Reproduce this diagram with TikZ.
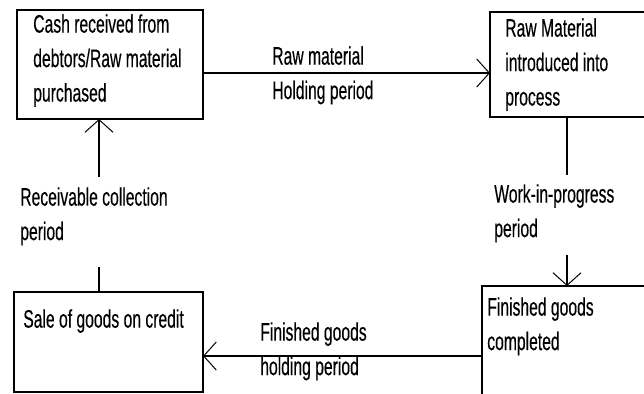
\documentclass[tikz,border=0pt]{standalone}
\usepackage{fontspec}
\setmainfont{Liberation Sans}[FakeStretch=0.62,FakeBold=0.3]
\usetikzlibrary{arrows.meta}

\begin{document}
\begin{tikzpicture}[x=0.025cm,y=-0.025cm,
  box/.style={draw,line width=1.1pt,anchor=north west,inner sep=0pt,outer sep=0pt},
  txt/.style={anchor=north west,inner sep=0pt,align=left,font=\fontsize{18}{24.5}\selectfont},
  arr/.style={line width=1.1pt,-{Straight Barb[length=9pt,width=20pt,line width=0.7pt]}}]
\useasboundingbox (0,0) rectangle (644,394);
\fill[white] (0,0) rectangle (644,394);
\clip (0,0) rectangle (644,394);
% the four stages
\node[box,minimum width=186*0.025cm,minimum height=109*0.025cm] (cash) at (17,10) {};
\node[box,minimum width=175*0.025cm,minimum height=105*0.025cm] (raw) at (490,12) {};
\node[box,minimum width=189*0.025cm,minimum height=100*0.025cm] (sale) at (14,292) {};
\node[box,minimum width=180*0.025cm,minimum height=140*0.025cm] (fin) at (482,286) {};
\node[txt] (cashtxt) at ([shift={(16,4)}]cash.north west) {Cash received from\\debtors/Raw material\\purchased};
\node[txt] (rawtxt) at ([shift={(15,6)}]raw.north west) {Raw Material\\introduced into\\process};
\node[txt] (saletxt) at ([shift={(9,17)}]sale.north west) {Sale of goods on credit};
\node[txt] (fintxt) at ([shift={(5,11)}]fin.north west) {Finished goods\\completed};
% periods
\node[txt] (hold) at (272,46) {Raw material\\Holding period};
\node[txt] (wip) at (494,184) {Work-in-progress\\period};
\node[txt] (fgh) at (260,322) {Finished goods\\holding period};
\node[txt] (recv) at (20,187) {Receivable collection\\period};
\coordinate (holdy) at (0,73);
\coordinate (fghy) at (0,356);
\coordinate (wiptop) at (567,175);
\coordinate (wipbot) at (567,255);
\coordinate (recvtop) at (99,177);
\coordinate (recvbot) at (99,267);
% flows
\draw[arr] (cash.east |- holdy) -- (raw.west |- holdy);
\draw[line width=1.1pt] (raw.south -| wiptop) -- (wiptop);
\draw[arr] (wipbot) -- (fin.north -| wipbot);
\draw[arr] (fin.west |- fghy) -- (sale.east |- fghy);
\draw[line width=1.1pt] (sale.north -| recvbot) -- (recvbot);
\draw[arr] (recvtop) -- (cash.south -| recvtop);
\end{tikzpicture}
\end{document}
